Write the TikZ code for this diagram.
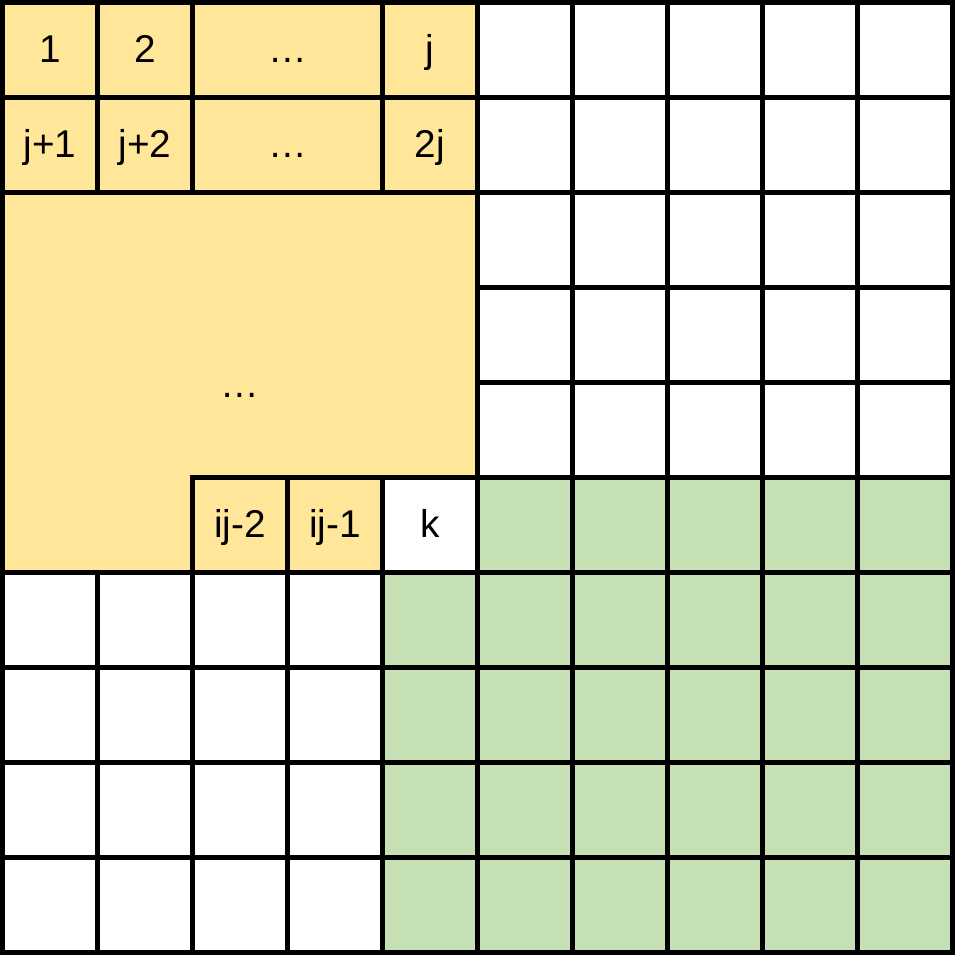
\documentclass[tikz,border=0pt]{standalone}
\usepackage{fontspec}
\setmainfont{Liberation Sans}
\definecolor{cellyellow}{HTML}{FFE699}
\definecolor{cellgreen}{HTML}{C5E0B4}
\tikzset{
  gridline/.style={line width=1.35pt, line cap=rect},
  celltext/.style={font=\fontsize{11.6}{14}\selectfont, inner sep=0pt,
    text height=0.72em, text depth=0pt}
}
\begin{document}
\begin{tikzpicture}
\useasboundingbox (-0.0263,-0.0263) rectangle (10.0263,10.0263);

%FILLS
%Yellow block
\fill [cellyellow] (0,10) -- (5,10) -- (5,5) -- (4,5) -- (4,4) -- (0,4) -- cycle;
%Green block
\fill [cellgreen] (5,5) -- (10,5) -- (10,0) -- (4,0) -- (4,4) -- (5,4) -- cycle;

%GRID
%Vertical lines
\foreach \x in {0,5,6,7,8,9,10}
{
\draw [gridline] (\x,0) -- (\x,10);
}
\foreach \x in {1,2,4}
{
\draw [gridline] (\x,8) -- (\x,10);
}
\draw [gridline] (1,0) -- (1,4);
\foreach \x in {2,3,4}
{
\draw [gridline] (\x,0) -- (\x,5);
}
%Horizontal lines
\foreach \y in {0,1,2,3,4,8,9,10}
{
\draw [gridline] (0,\y) -- (10,\y);
}
\foreach \y in {6,7}
{
\draw [gridline] (5,\y) -- (10,\y);
}
\draw [gridline] (2,5) -- (10,5);

%Labels
%Row 1
\foreach \x/\xtext/\name in {0.5/1/c1,1.5/2/c2,3/…/cdotsa,4.5/j/cj}
	\node [celltext] (\name) at (\x,9.5) {\xtext};
%Row 2
\foreach \x/\xtext/\name in {0.5/j+1/cja,1.5/j+2/cjb,3/…/cdotsb,4.5/2j/ctwoj}
	\node [celltext] (\name) at (\x,8.5) {\xtext};
%Merged block
\node [celltext] (cdotsc) at (2.5,5.97) {…};
%Row 6
\foreach \x/\xtext/\name in {2.5/ij-2/cija,3.5/ij-1/cijb,4.5/k/ck}
	\node [celltext] (\name) at (\x,4.5) {\xtext};

\end{tikzpicture}
\end{document}
